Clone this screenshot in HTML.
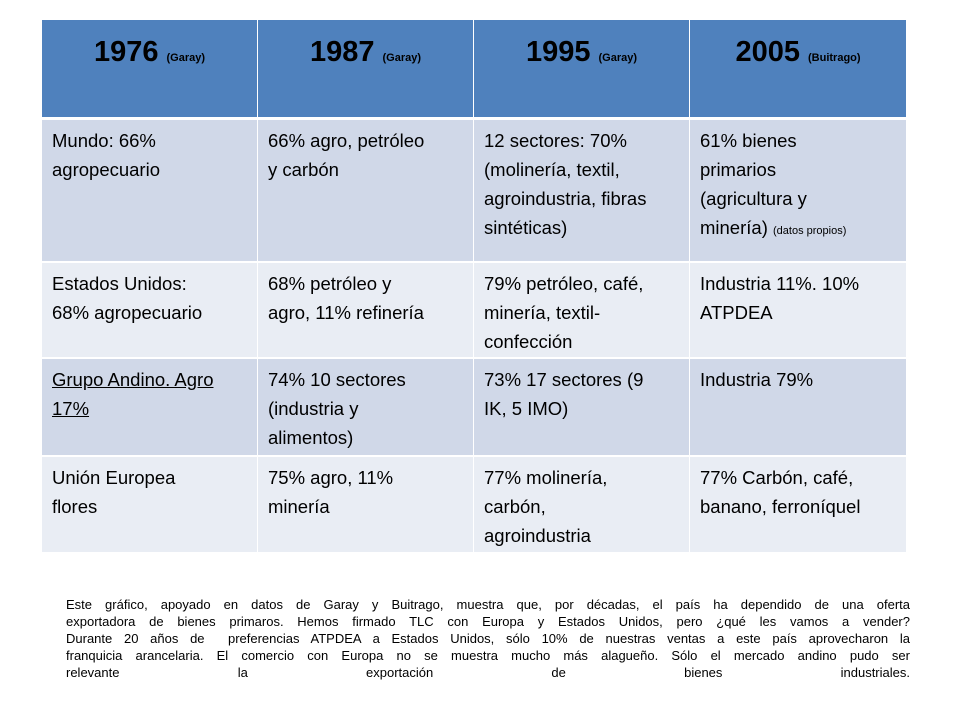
<!DOCTYPE html>
<html><head><meta charset="utf-8"><style>
body{margin:0;width:960px;height:720px;background:#fff;font-family:"Liberation Sans",sans-serif;position:relative;overflow:hidden}
.c{position:absolute;box-sizing:border-box;padding:6px 10px;font-size:18.5px;line-height:29px;color:#000}
.h{background:#4F81BD;text-align:center;font-weight:bold;font-size:29px;padding-top:14px;line-height:36px}
.h small{font-size:11px}
.o{background:#D0D8E8}.e{background:#E9EDF4}
.t{position:absolute;left:66px;width:844px;top:596px;font-size:13px;line-height:17px}
.t div{text-align:justify;text-align-last:justify;white-space:nowrap}
</style></head><body>
<div class="c h" style="left:42px;top:20px;width:215px;height:97px">1976 <small>(Garay)</small></div>
<div class="c h" style="left:258px;top:20px;width:215px;height:97px">1987 <small>(Garay)</small></div>
<div class="c h" style="left:474px;top:20px;width:215px;height:97px">1995 <small>(Garay)</small></div>
<div class="c h" style="left:690px;top:20px;width:216px;height:97px">2005 <small>(Buitrago)</small></div>

<div class="c o" style="left:42px;top:120px;width:215px;height:141px">Mundo: 66%<br>agropecuario</div>
<div class="c o" style="left:258px;top:120px;width:215px;height:141px">66% agro, petróleo<br>y carbón</div>
<div class="c o" style="left:474px;top:120px;width:215px;height:141px">12 sectores: 70%<br>(molinería, textil,<br>agroindustria, fibras<br>sintéticas)</div>
<div class="c o" style="left:690px;top:120px;width:216px;height:141px">61% bienes<br>primarios<br>(agricultura y<br>minería) <span style="font-size:11px">(datos propios)</span></div>

<div class="c e" style="left:42px;top:263px;width:215px;height:94px">Estados Unidos:<br>68% agropecuario</div>
<div class="c e" style="left:258px;top:263px;width:215px;height:94px">68% petróleo y<br>agro, 11% refinería</div>
<div class="c e" style="left:474px;top:263px;width:215px;height:94px">79% petróleo, café,<br>minería, textil-<br>confección</div>
<div class="c e" style="left:690px;top:263px;width:216px;height:94px">Industria 11%. 10%<br>ATPDEA</div>

<div class="c o" style="left:42px;top:359px;width:215px;height:96px"><u>Grupo Andino. Agro<br>17%</u></div>
<div class="c o" style="left:258px;top:359px;width:215px;height:96px">74% 10 sectores<br>(industria y<br>alimentos)</div>
<div class="c o" style="left:474px;top:359px;width:215px;height:96px">73% 17 sectores (9<br>IK, 5 IMO)</div>
<div class="c o" style="left:690px;top:359px;width:216px;height:96px">Industria 79%</div>

<div class="c e" style="left:42px;top:457px;width:215px;height:95px">Unión Europea<br>flores</div>
<div class="c e" style="left:258px;top:457px;width:215px;height:95px">75% agro, 11%<br>minería</div>
<div class="c e" style="left:474px;top:457px;width:215px;height:95px">77% molinería,<br>carbón,<br>agroindustria</div>
<div class="c e" style="left:690px;top:457px;width:216px;height:95px">77% Carbón, café,<br>banano, ferroníquel</div>

<div class="t">
<div>Este gráfico, apoyado en datos de Garay y Buitrago, muestra que, por décadas, el país ha dependido de una oferta</div>
<div>exportadora de bienes primaros. Hemos firmado TLC con Europa y Estados Unidos, pero ¿qué les vamos a vender?</div>
<div>Durante 20 años de &nbsp;preferencias ATPDEA a Estados Unidos, sólo 10% de nuestras ventas a este país aprovecharon la</div>
<div>franquicia arancelaria. El comercio con Europa no se muestra mucho más alagueño. Sólo el mercado andino pudo ser</div>
<div>relevante la exportación de bienes industriales.</div>
</div>
</body></html>
